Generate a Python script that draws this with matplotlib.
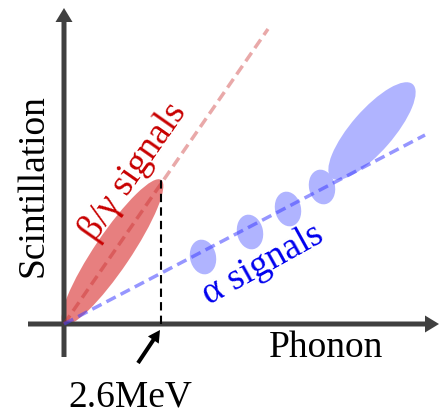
import matplotlib.pyplot as plt
from matplotlib.patches import Ellipse

plt.rcParams['font.family'] = ['Liberation Serif', 'DejaVu Serif']

# sketch units: origin of the two axes at (0, 0)
x_end, y_end = 375, 316
x_start, y_start = -36, -33

# beta/gamma band
bg_line_end = (204, 295)
bg_center = (48.5, 72)
bg_size = (174, 36)
bg_angle = 56

# 2.6 MeV marker
mev_x = 97
mev_top = 144

# alpha band
a_line_end = (361, 189)
a_centers_x = [139, 186, 224, 258]
a_centers_y = [67, 92, 115, 137]
a_big_center = (308, 193)
a_big_size = (124, 42)
a_big_angle = 49

fig = plt.figure(figsize=(4.44, 4.16), dpi=100)
ax = fig.add_axes([0, 0, 1, 1])
ax.set_xlim(-64, 380)
ax.set_ylim(-92, 324)
ax.axis('off')

# red ellipse
ax.add_patch(Ellipse(bg_center, bg_size[0], bg_size[1], angle=bg_angle,
                     facecolor='#d00000', alpha=0.5, edgecolor='none'))

# blue ellipses
for cx, cy in zip(a_centers_x, a_centers_y):
    ax.add_patch(Ellipse((cx, cy), 26, 35, angle=12,
                         facecolor='#b0b4ff', edgecolor='none'))
ax.add_patch(Ellipse(a_big_center, a_big_size[0], a_big_size[1], angle=a_big_angle,
                     facecolor='#b0b4ff', edgecolor='none'))

# dashed trend lines
ax.plot([0, bg_line_end[0]], [0, bg_line_end[1]], color='#c82828', alpha=0.4,
        lw=2.5, ls=(0, (3, 1.6)))
ax.plot([0, a_line_end[0]], [0, a_line_end[1]], color='#4040ff', alpha=0.55,
        lw=2.5, ls=(0, (3, 1.6)))

# 2.6 MeV line
ax.plot([mev_x, mev_x], [0, mev_top], color='black', lw=1.5, ls=(0, (4, 2.5)))

# axes
ax.arrow(x_start, 0, x_end - x_start, 0, width=5, head_width=17, head_length=14,
         length_includes_head=True, color='#404040', lw=0)
ax.arrow(0, y_start, 0, y_end - y_start, width=5, head_width=17, head_length=14,
         length_includes_head=True, color='#404040', lw=0)

# pointer to 2.6 MeV
ax.arrow(74, -39, 22, 33, width=4, head_width=13, head_length=12,
         length_includes_head=True, color='black', lw=0)

fs = 27
ax.text(-31, 138, 'Scintillation', rotation=90, fontsize=fs, ha='center', va='center')
ax.text(262, -24, 'Phonon', fontsize=fs, ha='center', va='center')
ax.text(66, -73, '2.6MeV', fontsize=fs, ha='center', va='center')
ax.text(69, 152, 'β/γ signals', rotation=55, fontsize=fs, color='#c80000',
        ha='center', va='center', rotation_mode='anchor')
ax.text(199, 59, 'α signals', rotation=29, fontsize=fs, color='#0000ee',
        ha='center', va='center', rotation_mode='anchor')

fig.savefig('out.png', dpi=100)
